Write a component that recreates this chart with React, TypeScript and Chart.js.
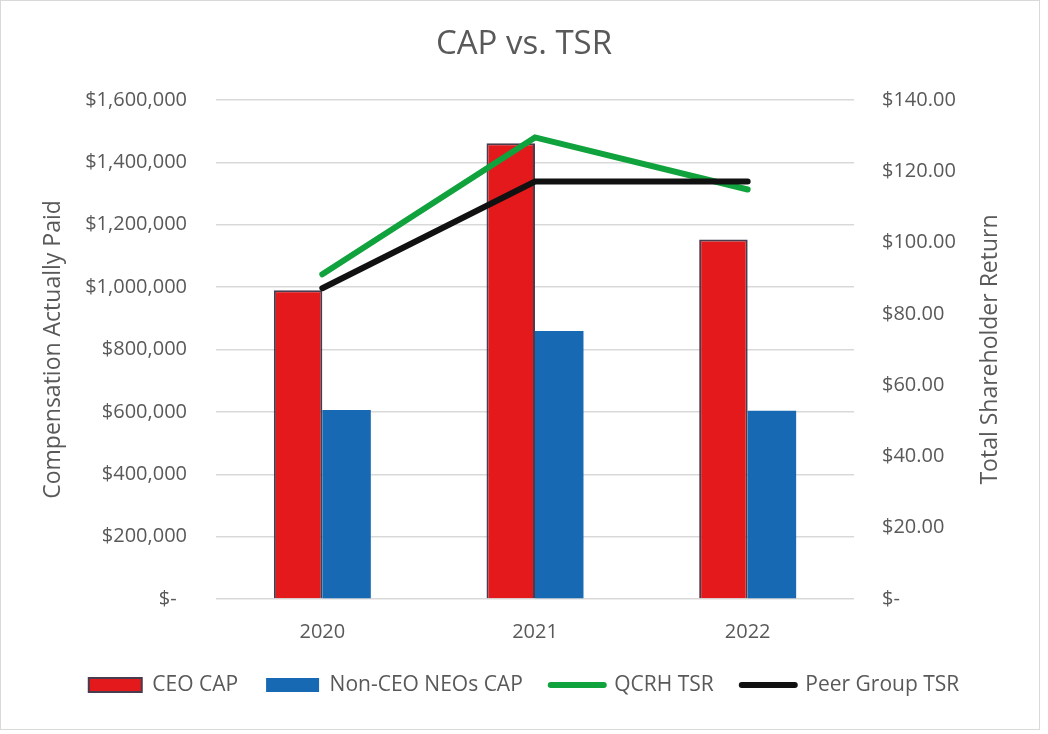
import React, { useEffect, useRef } from "react";
import { Chart, registerables } from "chart.js";

Chart.register(...registerables);

// Fiscal years shown on the category axis
const categories = ["2020", "2021", "2022"];

// Compensation actually paid (left axis, dollars)
const ceoCap = [990000, 1461000, 1153000];
const nonCeoCap = [606000, 859000, 604000];

// Total shareholder return (right axis, value of $100 invested)
const qcrhTsr = [91.1, 129.5, 114.9];
const peerTsr = [87.2, 117.1, 117.1];

// Tick labels in accounting format
const capTickLabels = [
  "$-  ",
  "$200,000",
  "$400,000",
  "$600,000",
  "$800,000",
  "$1,000,000",
  "$1,200,000",
  "$1,400,000",
  "$1,600,000",
];
const tsrTickLabels = [
  "$-",
  "$20.00",
  "$40.00",
  "$60.00",
  "$80.00",
  "$100.00",
  "$120.00",
  "$140.00",
];

const FONT = "'Open Sans', 'Noto Sans', sans-serif";
const TEXT = "#595959";
const RED = "#E3191B";
const RED_EDGE = "#4A3C4F";
const BLUE = "#1769B3";
const GREEN = "#10A23C";
const BLACK = "#111111";

// Right-hand axis title reads bottom-to-top
const rightTitlePlugin = {
  id: "rightTitle",
  afterDraw(chart: any) {
    const s = chart.scales.y1;
    const area = chart.chartArea;
    const ctx = chart.ctx;
    ctx.save();
    ctx.translate(s.right - 58, (area.top + area.bottom) / 2);
    ctx.rotate(-Math.PI / 2);
    ctx.font = `23px ${FONT}`;
    ctx.fillStyle = TEXT;
    ctx.textAlign = "center";
    ctx.textBaseline = "middle";
    ctx.fillText("Total Shareholder Return", 0, 0);
    ctx.restore();
  },
};

export default function App() {
  const canvasRef = useRef<HTMLCanvasElement | null>(null);

  useEffect(() => {
    const canvas = canvasRef.current;
    if (!canvas) return;
    const chart = new Chart(canvas, {
      type: "bar",
      data: {
        labels: categories,
        datasets: [
          {
            type: "bar",
            label: "CEO CAP",
            data: ceoCap,
            backgroundColor: RED,
            borderColor: RED_EDGE,
            borderWidth: 2,
            yAxisID: "y",
            order: 2,
            categoryPercentage: 0.456,
            barPercentage: 1,
          },
          {
            type: "bar",
            label: "Non-CEO NEOs CAP",
            data: nonCeoCap,
            backgroundColor: BLUE,
            borderWidth: 0,
            yAxisID: "y",
            order: 2,
            categoryPercentage: 0.456,
            barPercentage: 1,
          },
          {
            type: "line",
            label: "QCRH TSR",
            data: qcrhTsr,
            borderColor: GREEN,
            backgroundColor: GREEN,
            borderWidth: 6,
            borderCapStyle: "round",
            borderJoinStyle: "miter",
            pointRadius: 0,
            yAxisID: "y1",
            order: 1,
          },
          {
            type: "line",
            label: "Peer Group TSR",
            data: peerTsr,
            borderColor: BLACK,
            backgroundColor: BLACK,
            borderWidth: 6,
            borderCapStyle: "round",
            borderJoinStyle: "miter",
            pointRadius: 0,
            yAxisID: "y1",
            order: 0,
          },
        ] as any,
      },
      options: {
        responsive: false,
        animation: false,
        devicePixelRatio: 1,
        layout: { padding: { left: 0, right: 0, top: 0, bottom: 28.5 } },
        plugins: {
          tooltip: { enabled: false },
          title: {
            display: true,
            text: "CAP vs. TSR",
            color: TEXT,
            font: { family: FONT, size: 33, weight: "normal" },
            padding: { top: 25.2, bottom: 35.2 },
          },
          legend: {
            position: "bottom",
            labels: {
              color: TEXT,
              font: { family: FONT, size: 21 },
              usePointStyle: true,
              pointStyleWidth: 53,
              boxWidth: 53,
              boxHeight: 14,
              padding: 28,
              generateLabels(chart: any) {
                return chart.data.datasets.map((ds: any, i: number) => {
                  const isLine = ds.type === "line";
                  return {
                    text: ds.label,
                    datasetIndex: i,
                    fillStyle: isLine ? ds.borderColor : ds.backgroundColor,
                    strokeStyle: isLine ? ds.borderColor : ds.borderColor || ds.backgroundColor,
                    lineWidth: isLine ? 6 : ds.borderWidth,
                    lineCap: isLine ? "round" : "butt",
                    pointStyle: isLine ? "line" : "rect",
                    hidden: false,
                    fontColor: TEXT,
                  };
                });
              },
            },
          },
        },
        scales: {
          x: {
            grid: { display: false, drawTicks: false },
            border: { display: false },
            ticks: {
              color: TEXT,
              font: { family: FONT, size: 20 },
              padding: 21,
            },
            afterFit(scale: any) {
              scale.height = 47.5;
            },
          },
          y: {
            position: "left",
            min: 0,
            max: 1600000,
            grid: { color: "#D9D9D9", lineWidth: 1.5, drawTicks: false },
            border: { display: false },
            ticks: {
              stepSize: 200000,
              color: TEXT,
              font: { family: FONT, size: 20 },
              padding: 29,
              callback: (_v: any, i: number) => capTickLabels[i],
            },
            title: {
              display: true,
              text: "Compensation Actually Paid",
              color: TEXT,
              font: { family: FONT, size: 23 },
              padding: { top: 40, bottom: 0 },
            },
            afterFit(scale: any) {
              scale.width = 216;
            },
          },
          y1: {
            position: "right",
            min: 0,
            max: 140,
            grid: { display: false, drawTicks: false },
            border: { display: false },
            ticks: {
              stepSize: 20,
              color: TEXT,
              font: { family: FONT, size: 20 },
              padding: 28,
              callback: (_v: any, i: number) => tsrTickLabels[i],
            },
            afterFit(scale: any) {
              scale.width = 194;
            },
          },
        },
      } as any,
      plugins: [rightTitlePlugin],
    });
    return () => chart.destroy();
  }, []);

  return (
    <div
      style={{
        position: "absolute",
        left: 0,
        top: 0,
        width: 1048,
        height: 734,
        background: "#ffffff",
      }}
    >
      <canvas
        ref={canvasRef}
        width={1048}
        height={734}
        style={{ display: "block", width: 1048, height: 734 }}
      />
      <div
        style={{
          position: "absolute",
          left: 0,
          top: 0,
          width: 1040,
          height: 730,
          boxSizing: "border-box",
          border: "1px solid #D9D9D9",
          pointerEvents: "none",
        }}
      />
    </div>
  );
}
